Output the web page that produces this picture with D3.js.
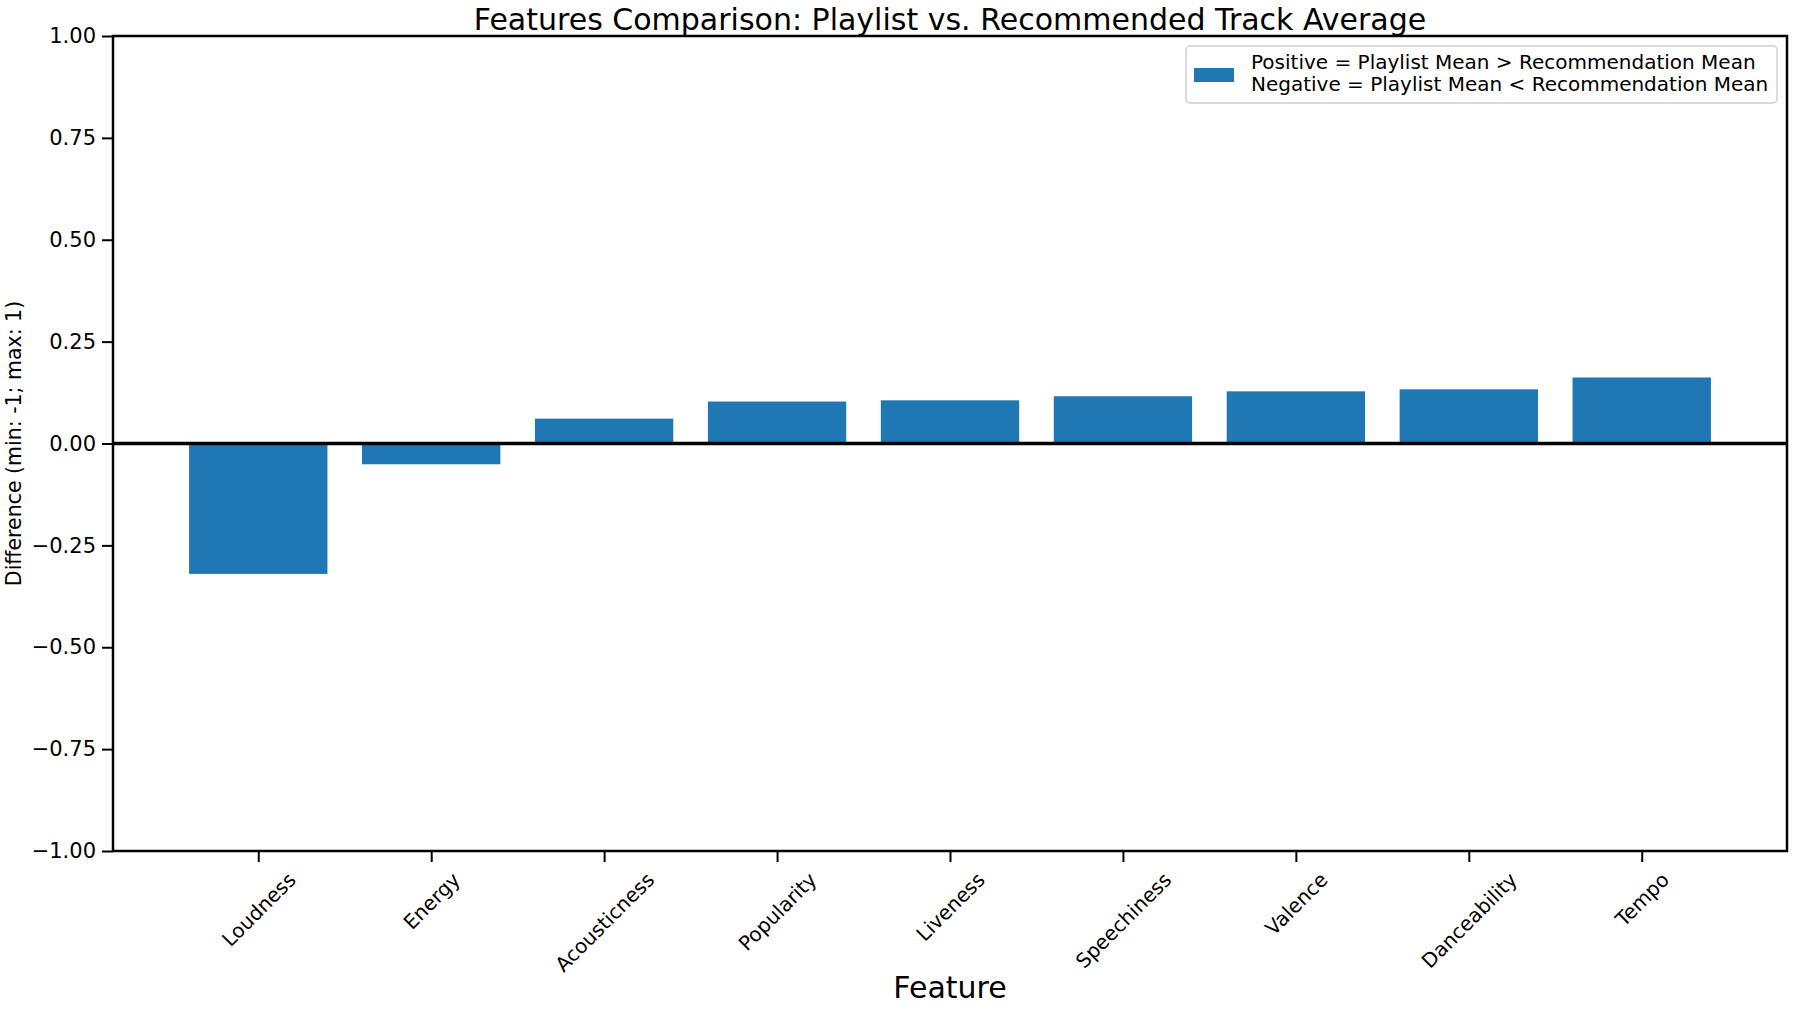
<!DOCTYPE html>
<html>
<head>
<meta charset="utf-8">
<script src="https://cdn.jsdelivr.net/npm/d3@7"></script>
<style>
  html, body { margin: 0; padding: 0; background: #fff; }
  svg { display: block; font-family: "DejaVu Sans", sans-serif; }
</style>
</head>
<body>
<svg id="chart" width="1794" height="1012"></svg>
<script>
const categories = ["Loudness", "Energy", "Acousticness", "Popularity", "Liveness", "Speechiness", "Valence", "Danceability", "Tempo"];
const differences = [-0.32, -0.051, 0.061, 0.103, 0.106, 0.116, 0.128, 0.133, 0.162];
const yTicks = [-1.0, -0.75, -0.5, -0.25, 0.0, 0.25, 0.5, 0.75, 1.0];
const titleText = "Features Comparison: Playlist vs. Recommended Track Average";
const xLabelText = "Feature";
const yLabelText = "Difference (min: -1; max: 1)";
const legendLines = ["Positive = Playlist Mean > Recommendation Mean", "Negative = Playlist Mean < Recommendation Mean"];

const W = 1794, H = 1012;
const margin = { left: 113, right: 7, top: 36, bottom: 161 };
const svg = d3.select("#chart");
const iw = W - margin.left - margin.right;
const ih = H - margin.top - margin.bottom;
const g = svg.append("g").attr("transform", `translate(${margin.left},${margin.top})`);

const n = categories.length;
const xLin = d3.scaleLinear().domain([-0.4 - 0.05 * (n - 0.2), (n - 1) + 0.4 + 0.05 * (n - 0.2)]).range([0, iw]);
const y = d3.scaleLinear().domain([-1, 1]).range([ih, 0]);
const barColor = "#1f77b4";

g.selectAll("rect.bar").data(differences).enter().append("rect")
  .attr("class", "bar")
  .attr("x", (d, i) => xLin(i - 0.4))
  .attr("width", (d, i) => xLin(i + 0.4) - xLin(i - 0.4))
  .attr("y", d => y(Math.max(0, d)))
  .attr("height", d => Math.abs(y(d) - y(0)))
  .attr("fill", barColor);

g.append("line")
  .attr("x1", 0).attr("x2", iw)
  .attr("y1", y(0)).attr("y2", y(0))
  .attr("stroke", "#000").attr("stroke-width", 3.3);

const yAxis = d3.axisLeft(y).tickValues(yTicks).tickFormat(d3.format(".2f")).tickSize(11).tickPadding(6);
const yg = g.append("g").call(yAxis);
yg.select(".domain").remove();
yg.selectAll(".tick line").attr("stroke", "#000").attr("stroke-width", 2);
yg.selectAll(".tick text").attr("font-size", 21).attr("fill", "#000").attr("font-family", "DejaVu Sans");

const xAxis = d3.axisBottom(xLin).tickValues(d3.range(n)).tickFormat(i => categories[i]).tickSize(11).tickPadding(7);
const xg = g.append("g").attr("transform", `translate(0,${ih})`).call(xAxis);
xg.select(".domain").remove();
xg.selectAll(".tick line").attr("stroke", "#000").attr("stroke-width", 2);
xg.selectAll(".tick text")
  .attr("font-size", 20).attr("fill", "#000").attr("font-family", "DejaVu Sans")
  .each(function () {
    const t = d3.select(this);
    const w = this.getComputedTextLength();
    const h = 20 * 1.16;
    const half = (w * Math.SQRT1_2 + h * Math.SQRT1_2) / 2;
    t.attr("y", null).attr("dy", null)
      .attr("text-anchor", "middle")
      .attr("dominant-baseline", "central")
      .attr("transform", `translate(0,${11 + 6 + half}) rotate(-45)`);
  });

g.append("rect").attr("x", 0).attr("y", 0).attr("width", iw).attr("height", ih)
  .attr("fill", "none").attr("stroke", "#000").attr("stroke-width", 2.5);

svg.append("text")
  .attr("x", margin.left + iw / 2).attr("y", 30)
  .attr("text-anchor", "middle").attr("font-size", 30).attr("fill", "#000")
  .text(titleText);

svg.append("text")
  .attr("x", margin.left + iw / 2).attr("y", 998)
  .attr("text-anchor", "middle").attr("font-size", 30).attr("fill", "#000")
  .text(xLabelText);

svg.append("text")
  .attr("transform", `translate(21,${margin.top + ih / 2}) rotate(-90)`)
  .attr("text-anchor", "middle").attr("font-size", 20.5).attr("fill", "#000")
  .text(yLabelText);

const lg = svg.append("g");
lg.append("rect").attr("x", 1186).attr("y", 46).attr("width", 591).attr("height", 57)
  .attr("rx", 4).attr("fill", "#fff").attr("stroke", "#d0d0d0").attr("stroke-width", 1.5);
lg.append("rect").attr("x", 1194).attr("y", 68).attr("width", 40).attr("height", 14).attr("fill", barColor);
lg.selectAll("text.leg").data(legendLines).enter().append("text")
  .attr("class", "leg")
  .attr("x", 1251).attr("y", (d, i) => 69 + i * 22)
  .attr("font-size", 20).attr("fill", "#000")
  .text(d => d);
</script>
</body>
</html>
